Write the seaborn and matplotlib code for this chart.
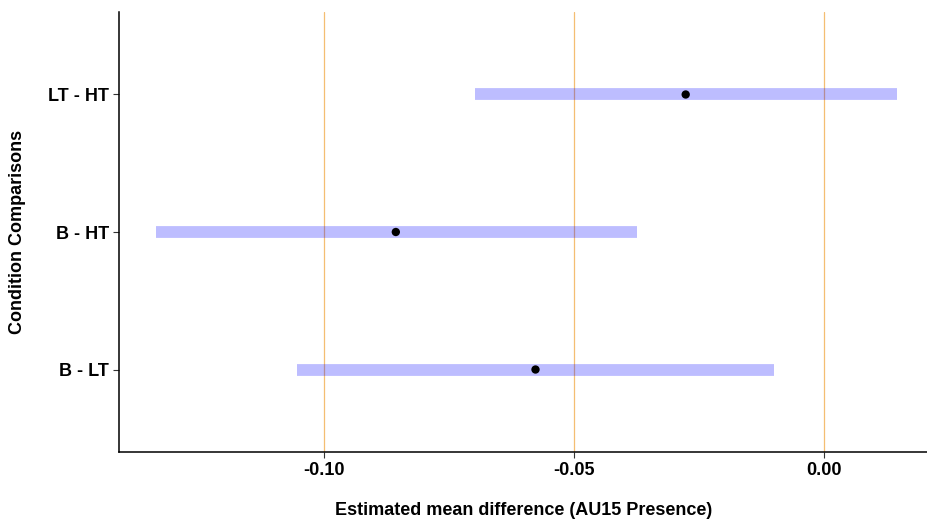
import pandas as pd
import seaborn as sns
import matplotlib.pyplot as plt

# Data
comparisons = ['B - LT', 'B - HT', 'LT - HT']
estimates = [-0.0577, -0.0856, -0.0277]
lower_ci = [-0.1054, -0.1335, -0.0697]
upper_ci = [-0.0100, -0.0375, 0.0146]
ref_lines = [-0.10, -0.05, 0.00]

df = pd.DataFrame({
    'comparison': comparisons,
    'estimate': estimates,
    'lower': lower_ci,
    'upper': upper_ci,
})

sns.set_theme(style='white')
plt.rcParams['font.family'] = ['Liberation Sans', 'DejaVu Sans']
plt.rcParams['text.color'] = 'black'
plt.rcParams['axes.labelcolor'] = 'black'
plt.rcParams['xtick.labelcolor'] = 'black'
plt.rcParams['ytick.labelcolor'] = 'black'

fig = plt.figure(figsize=(9.28, 5.21), dpi=100)
ax = fig.add_axes([0.1282, 0.1324, 0.8718, 0.8446])

# reference lines
for x in ref_lines:
    ax.axvline(x, color='#F4BE72', lw=0.9, zorder=1)

# confidence intervals
ax.hlines(df['comparison'], df['lower'], df['upper'],
          color='blue', alpha=0.26, lw=8.5, capstyle='butt', zorder=2)

# point estimates
sns.scatterplot(data=df, x='estimate', y='comparison', color='black',
                s=36, edgecolor='none', zorder=3, ax=ax, legend=False)

ax.set_ylim(-0.6, 2.6)
ax.set_xlim(-0.1409, 0.0207)
ax.set_xticks(ref_lines)
ax.set_xticklabels(['-0.10', '-0.05', '0.00'])

ax.set_xlabel('Estimated mean difference (AU15 Presence)', fontsize=13,
              fontweight='bold', labelpad=17)
ax.set_ylabel('Condition Comparisons', fontsize=13, fontweight='bold',
              labelpad=16)

ax.tick_params(axis='both', labelsize=13, length=4, width=0.8,
               color='#333333', pad=3, bottom=True, left=True)
for lbl in ax.get_xticklabels() + ax.get_yticklabels():
    lbl.set_fontweight('bold')

sns.despine(ax=ax)
for side in ['left', 'bottom']:
    ax.spines[side].set_color('black')
    ax.spines[side].set_linewidth(1.1)

fig.savefig('out.png', dpi=100)
